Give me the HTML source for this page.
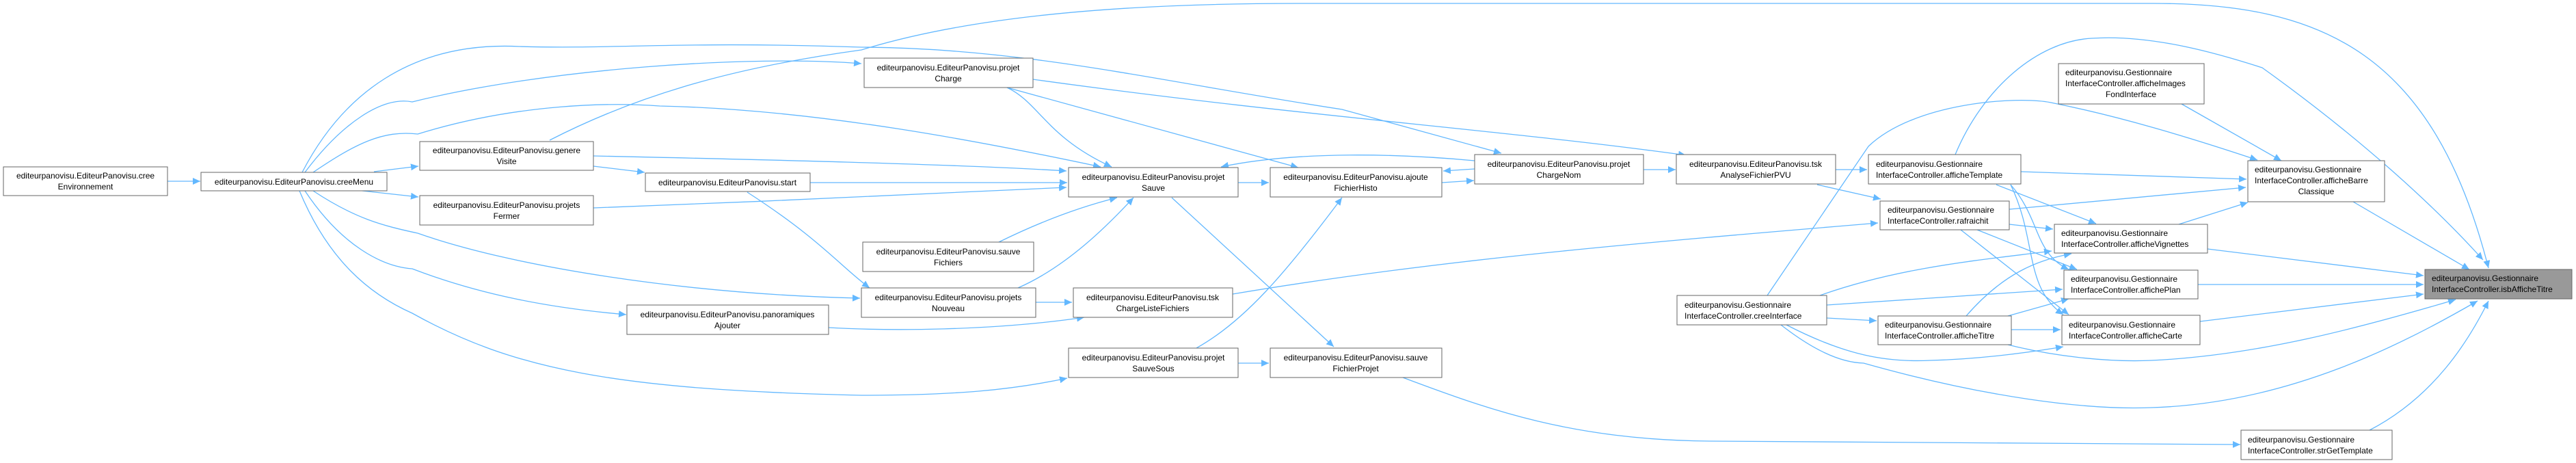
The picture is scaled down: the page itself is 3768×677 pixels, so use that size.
<!DOCTYPE html>
<html><head><meta charset="utf-8"><style>
html,body{margin:0;padding:0;background:#fff;}
svg{display:block;}
text{font-family:"Liberation Sans",sans-serif;font-size:12px;fill:#000;}
.e{fill:none;stroke:#63b8ff;stroke-width:1.3;marker-end:url(#a);}
.n{fill:#fff;stroke:#666;stroke-width:1;}
</style></head><body>
<svg width="3768" height="677" viewBox="0 0 3768 677" xmlns="http://www.w3.org/2000/svg">
<defs><marker id="a" markerUnits="userSpaceOnUse" markerWidth="12" markerHeight="10" refX="11" refY="5" orient="auto"><path d="M0,0 L11,5 L0,10 Z" fill="#63b8ff"/></marker></defs>
<g>
<path class="e" d="M245,265 L293,265"/>
<path class="e" d="M547,251 L612,243"/>
<path class="e" d="M530,279 L612,288"/>
<path class="e" d="M446,252 C500,180 560,140 603,149 C800,100 1100,80 1260,93"/>
<path class="e" d="M442,252 C500,140 600,60 760,68 C900,72 1000,60 1260,69 C1500,70 1700,120 1963,160 L2196,224"/>
<path class="e" d="M804,205 C950,130 1100,95 1260,73 C1400,30 1600,5 1900,5 L3150,5 C3400,5 3560,80 3640,392"/>
<path class="e" d="M458,252 C520,210 560,190 611,196 C760,150 900,150 965,155 C1200,160 1450,210 1610,244"/>
<path class="e" d="M868,228 C1100,233 1400,240 1560,250"/>
<path class="e" d="M868,243 L943,252"/>
<path class="e" d="M1185,267 L1561,267"/>
<path class="e" d="M868,304 C1100,295 1400,283 1560,274"/>
<path class="e" d="M1093,281 C1200,350 1230,390 1272,421"/>
<path class="e" d="M458,279 C520,320 560,330 611,341 C750,390 1000,430 1258,436"/>
<path class="e" d="M446,279 C500,360 560,390 603,393 C700,430 800,450 916,460"/>
<path class="e" d="M438,279 C480,380 540,430 603,458 C750,540 900,570 1260,578 C1400,578 1480,570 1561,553"/>
<path class="e" d="M1212,479 C1300,484 1450,484 1586,464"/>
<path class="e" d="M1515,442 L1568,442"/>
<path class="e" d="M1489,421 C1560,390 1620,330 1658,289"/>
<path class="e" d="M1461,354 C1530,320 1590,300 1634,289"/>
<path class="e" d="M1473,128 C1520,150 1530,200 1626,244"/>
<path class="e" d="M1473,128 L1899,245"/>
<path class="e" d="M1511,116 C1900,170 2200,190 2466,227"/>
<path class="e" d="M1811,267 L1856,267"/>
<path class="e" d="M2109,267 L2156,264"/>
<path class="e" d="M2157,247 L2111,250"/>
<path class="e" d="M2157,235 C2050,225 1900,220 1786,244"/>
<path class="e" d="M2404,248 L2451,248"/>
<path class="e" d="M1714,289 L1951,507"/>
<path class="e" d="M1811,531 L1856,531"/>
<path class="e" d="M1750,509 C1820,470 1880,400 1963,289"/>
<path class="e" d="M2052,552 C2180,600 2300,643 2500,645 L3277,650"/>
<path class="e" d="M1803,430 C2100,380 2400,355 2747,326"/>
<path class="e" d="M2685,248 L2731,248"/>
<path class="e" d="M2658,270 L2751,291"/>
<path class="e" d="M2585,432 L2733,214 C2800,150 2950,140 3000,150 C3100,170 3200,200 3302,234"/>
<path class="e" d="M2860,226 C2900,130 2980,60 3060,56 C3150,50 3250,80 3309,99 C3450,200 3560,300 3632,380"/>
<path class="e" d="M2956,251 L3286,262"/>
<path class="e" d="M2939,306 L3285,274"/>
<path class="e" d="M3187,328 L3288,296"/>
<path class="e" d="M3191,152 L3337,235"/>
<path class="e" d="M3442,295 L3612,394"/>
<path class="e" d="M3229,364 L3545,403"/>
<path class="e" d="M3215,416 L3545,416"/>
<path class="e" d="M3218,470 L3545,430"/>
<path class="e" d="M2939,328 L3003,335"/>
<path class="e" d="M2920,270 L3066,327"/>
<path class="e" d="M2892,336 L3038,394"/>
<path class="e" d="M2868,336 L3026,460"/>
<path class="e" d="M2941,270 C2985,320 2975,370 3026,394"/>
<path class="e" d="M2941,270 C2980,350 2960,420 3018,460"/>
<path class="e" d="M2662,432 C2780,390 2900,380 3001,367"/>
<path class="e" d="M2672,446 L3017,423"/>
<path class="e" d="M2672,465 L2745,469"/>
<path class="e" d="M2876,462 C2930,400 2980,380 3030,371"/>
<path class="e" d="M2937,462 L3026,437"/>
<path class="e" d="M2942,482 L3014,482"/>
<path class="e" d="M2613,475 C2700,520 2760,530 2823,527 C2900,525 2970,515 3018,507"/>
<path class="e" d="M2937,504 C3000,520 3080,530 3147,527 C3300,520 3450,480 3592,438"/>
<path class="e" d="M2605,475 C2650,510 2690,530 2726,531 C2900,580 3050,600 3147,596 C3350,590 3520,500 3624,440"/>
<path class="e" d="M3466,629 C3560,580 3610,500 3640,440"/>
</g>
<g>
<rect class="n" x="5" y="244" width="240" height="42"/><text x="125" y="261" text-anchor="middle">editeurpanovisu.EditeurPanovisu.cree</text><text x="125" y="277" text-anchor="middle">Environnement</text>
<rect class="n" x="294" y="252" width="272" height="27"/><text x="430" y="270" text-anchor="middle">editeurpanovisu.EditeurPanovisu.creeMenu</text>
<rect class="n" x="614" y="207" width="254" height="42"/><text x="741" y="224" text-anchor="middle">editeurpanovisu.EditeurPanovisu.genere</text><text x="741" y="240" text-anchor="middle">Visite</text>
<rect class="n" x="944" y="253" width="241" height="27"/><text x="1064" y="271" text-anchor="middle">editeurpanovisu.EditeurPanovisu.start</text>
<rect class="n" x="614" y="286" width="254" height="43"/><text x="741" y="304" text-anchor="middle">editeurpanovisu.EditeurPanovisu.projets</text><text x="741" y="320" text-anchor="middle">Fermer</text>
<rect class="n" x="917" y="446" width="295" height="43"/><text x="1064" y="464" text-anchor="middle">editeurpanovisu.EditeurPanovisu.panoramiques</text><text x="1064" y="480" text-anchor="middle">Ajouter</text>
<rect class="n" x="1264" y="85" width="247" height="43"/><text x="1387" y="103" text-anchor="middle">editeurpanovisu.EditeurPanovisu.projet</text><text x="1387" y="119" text-anchor="middle">Charge</text>
<rect class="n" x="1563" y="245" width="248" height="43"/><text x="1687" y="263" text-anchor="middle">editeurpanovisu.EditeurPanovisu.projet</text><text x="1687" y="279" text-anchor="middle">Sauve</text>
<rect class="n" x="1858" y="245" width="251" height="43"/><text x="1983" y="263" text-anchor="middle">editeurpanovisu.EditeurPanovisu.ajoute</text><text x="1983" y="279" text-anchor="middle">FichierHisto</text>
<rect class="n" x="2157" y="226" width="247" height="43"/><text x="2280" y="244" text-anchor="middle">editeurpanovisu.EditeurPanovisu.projet</text><text x="2280" y="260" text-anchor="middle">ChargeNom</text>
<rect class="n" x="2452" y="226" width="233" height="43"/><text x="2568" y="244" text-anchor="middle">editeurpanovisu.EditeurPanovisu.tsk</text><text x="2568" y="260" text-anchor="middle">AnalyseFichierPVU</text>
<rect class="n" x="1262" y="354" width="250" height="43"/><text x="1387" y="372" text-anchor="middle">editeurpanovisu.EditeurPanovisu.sauve</text><text x="1387" y="388" text-anchor="middle">Fichiers</text>
<rect class="n" x="1260" y="421" width="255" height="43"/><text x="1387" y="439" text-anchor="middle">editeurpanovisu.EditeurPanovisu.projets</text><text x="1387" y="455" text-anchor="middle">Nouveau</text>
<rect class="n" x="1570" y="421" width="233" height="43"/><text x="1686" y="439" text-anchor="middle">editeurpanovisu.EditeurPanovisu.tsk</text><text x="1686" y="455" text-anchor="middle">ChargeListeFichiers</text>
<rect class="n" x="1563" y="509" width="248" height="43"/><text x="1687" y="527" text-anchor="middle">editeurpanovisu.EditeurPanovisu.projet</text><text x="1687" y="543" text-anchor="middle">SauveSous</text>
<rect class="n" x="1858" y="509" width="251" height="43"/><text x="1983" y="527" text-anchor="middle">editeurpanovisu.EditeurPanovisu.sauve</text><text x="1983" y="543" text-anchor="middle">FichierProjet</text>
<rect class="n" x="2733" y="226" width="223" height="43"/><text x="2744" y="244">editeurpanovisu.Gestionnaire</text><text x="2744" y="260">InterfaceController.afficheTemplate</text>
<rect class="n" x="2750" y="294" width="189" height="42"/><text x="2761" y="311">editeurpanovisu.Gestionnaire</text><text x="2761" y="327">InterfaceController.rafraichit</text>
<rect class="n" x="2453" y="432" width="219" height="43"/><text x="2464" y="450">editeurpanovisu.Gestionnaire</text><text x="2464" y="466">InterfaceController.creeInterface</text>
<rect class="n" x="2747" y="462" width="195" height="42"/><text x="2757" y="479">editeurpanovisu.Gestionnaire</text><text x="2757" y="495">InterfaceController.afficheTitre</text>
<rect class="n" x="3011" y="93" width="213" height="59"/><text x="3021" y="110">editeurpanovisu.Gestionnaire</text><text x="3021" y="126">InterfaceController.afficheImages</text><text x="3117" y="142" text-anchor="middle">FondInterface</text>
<rect class="n" x="3288" y="235" width="200" height="60"/><text x="3298" y="252">editeurpanovisu.Gestionnaire</text><text x="3298" y="268">InterfaceController.afficheBarre</text><text x="3388" y="284" text-anchor="middle">Classique</text>
<rect class="n" x="3005" y="328" width="224" height="42"/><text x="3015" y="345">editeurpanovisu.Gestionnaire</text><text x="3015" y="361">InterfaceController.afficheVignettes</text>
<rect class="n" x="3019" y="395" width="196" height="42"/><text x="3029" y="412">editeurpanovisu.Gestionnaire</text><text x="3029" y="428">InterfaceController.affichePlan</text>
<rect class="n" x="3016" y="461" width="202" height="43"/><text x="3026" y="479">editeurpanovisu.Gestionnaire</text><text x="3026" y="495">InterfaceController.afficheCarte</text>
<rect x="3547" y="394" width="215" height="43" fill="#999" stroke="#666"/><text x="3557" y="411">editeurpanovisu.Gestionnaire</text><text x="3557" y="427">InterfaceController.isbAfficheTitre</text>
<rect class="n" x="3278" y="629" width="221" height="43"/><text x="3288" y="647">editeurpanovisu.Gestionnaire</text><text x="3288" y="663">InterfaceController.strGetTemplate</text>
</g>
</svg>
</body></html>
